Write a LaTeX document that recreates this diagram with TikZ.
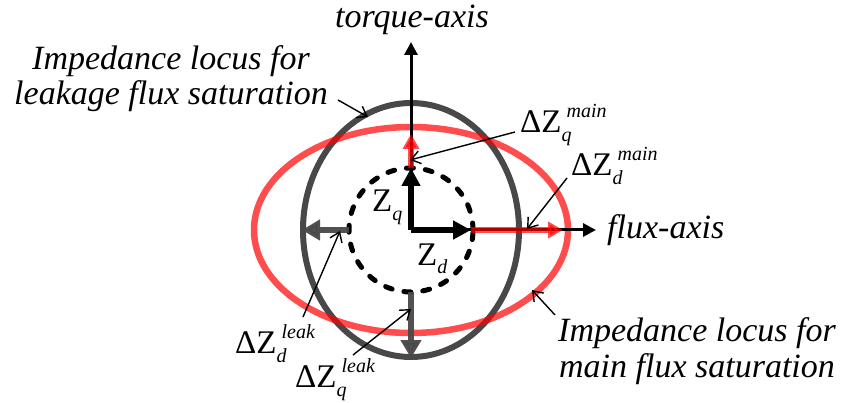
\documentclass[tikz,border=0pt]{standalone}
\usepackage{fontspec}
\setmainfont{Liberation Serif}
\newfontfamily\lserif{Liberation Serif}
\usetikzlibrary{arrows.meta}
\definecolor{locgray}{RGB}{72,72,72}
\newcommand{\subfont}{\lserif\fontsize{20}{20}\selectfont\itshape}
\newcommand{\dZ}[2]{ΔZ\rlap{\hspace{5pt}\raisebox{15pt}{\subfont #2}}\raisebox{-9pt}{\subfont #1}}
\newcommand{\zlab}[1]{Z\raisebox{-9pt}{\subfont #1}}
\begin{document}
\begin{tikzpicture}[x=1pt,y=-1pt,
  lbl/.style={font=\lserif\fontsize{34}{35}\selectfont\itshape, inner sep=0pt, anchor=base},
  dzl/.style={font=\lserif\fontsize{33}{33}\selectfont, inner sep=0pt, anchor=base west},
  axisline/.style={line width=3pt,-{Triangle[length=13pt,width=13pt]}},
  zarrow/.style={line width=6pt,-{Triangle[length=18pt,width=18pt]}},
  redarrow/.style={line width=6pt,red,opacity=0.7,-{Triangle[length=15pt,width=16pt]}},
  grayarrow/.style={line width=6pt,locgray,opacity=0.95,-{Triangle[length=18pt,width=20pt]}},
  ptr/.style={line width=1.4pt,-{Straight Barb[length=9pt,width=13pt]}},
]
\useasboundingbox (0,0) rectangle (845,403);
\coordinate (O) at (411,230);
% loci
\draw[locgray,line width=6pt] (O) ellipse [x radius=108pt,y radius=127pt];
\draw[red,opacity=0.7,line width=6.5pt] (O) ellipse [x radius=157pt,y radius=103pt];
% axes
\coordinate (qend) at (411,42);
\coordinate (dend) at (596,230);
\draw[axisline] (O) -- (qend);
\draw[axisline] (O) -- (dend);
% nominal impedance circle
\draw[line width=5pt,dash pattern=on 7pt off 12pt,line cap=round] (O) circle [radius=62pt];
% nominal vectors
\coordinate (zd) at (471,230);
\coordinate (zq) at (411,168);
\draw[zarrow] (O) -- (zd);
\draw[zarrow] (O) -- (zq);
% main flux deviations
\coordinate (mdend) at (563,230);
\coordinate (mqend) at (411,134);
\draw[redarrow] (zd) -- (mdend);
\draw[redarrow] (zq) -- (mqend);
% leakage deviations
\coordinate (ldstart) at (349,230);
\coordinate (ldend) at (302,230);
\coordinate (lqstart) at (411,292);
\coordinate (lqend) at (411,358);
\draw[grayarrow] (ldstart) -- (ldend);
\draw[grayarrow] (lqstart) -- (lqend);
% labels
\node[lbl] (torque) at (412,28) {torque-axis};
\node[lbl,anchor=base west] (flux) at (607,239) {flux-axis};
\node[lbl] (leak1) at (171,70) {Impedance locus for};
\node[lbl] (leak2) at (171,105) {leakage flux saturation};
\node[lbl] (main1) at (697,341) {Impedance locus for};
\node[lbl] (main2) at (697,377) {main flux saturation};
\node[dzl] (dqm) at (520,133) {\dZ{q}{main}};
\node[dzl] (ddm) at (571,176) {\dZ{d}{main}};
\node[dzl] (ddl) at (235,353) {\dZ{d}{leak}};
\node[dzl] (dql) at (295,387) {\dZ{q}{leak}};
\node[dzl] (zqlab) at (372,212) {\zlab{q}};
\node[dzl] (zdlab) at (417,265) {\zlab{d}};
% pointers
\coordinate (p1s) at (515,132); \coordinate (p1e) at (410,160);
\coordinate (p2s) at (567,178); \coordinate (p2e) at (527,229);
\coordinate (p3s) at (303,317); \coordinate (p3e) at (340,231);
\coordinate (p4s) at (353,355); \coordinate (p4e) at (411,309);
\coordinate (p5s) at (338,100); \coordinate (p5e) at (368,117);
\coordinate (p6s) at (555,315); \coordinate (p6e) at (532,290);
\draw[ptr] (p1s) -- (p1e);
\draw[ptr] (p2s) -- (p2e);
\draw[ptr] (p3s) -- (p3e);
\draw[ptr] (p4s) -- (p4e);
\draw[ptr] (p5s) -- (p5e);
\draw[ptr] (p6s) -- (p6e);
\end{tikzpicture}
\end{document}
